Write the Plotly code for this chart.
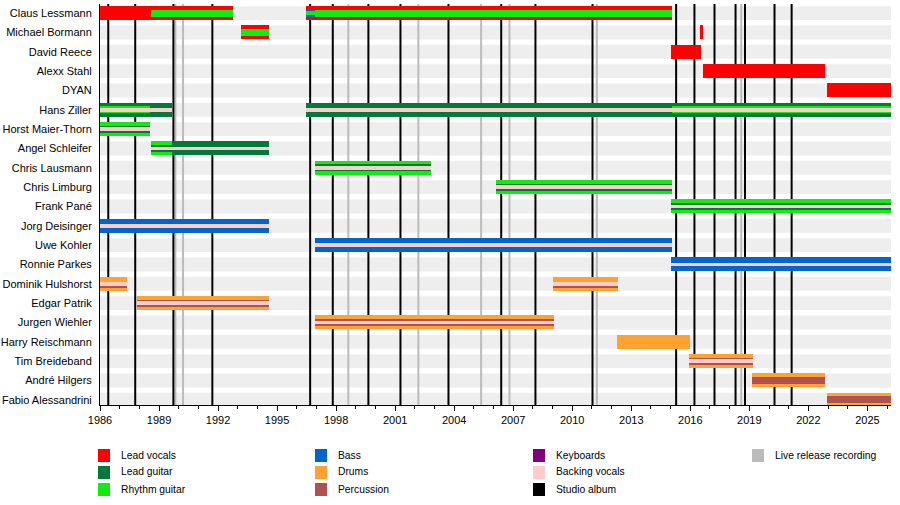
import plotly.graph_objects as go

# ---------------- data ----------------
members = ["Claus Lessmann", "Michael Bormann", "David Reece", "Alexx Stahl", "DYAN",
           "Hans Ziller", "Horst Maier-Thorn", "Angel Schleifer", "Chris Lausmann",
           "Chris Limburg", "Frank Pané", "Jorg Deisinger", "Uwe Kohler", "Ronnie Parkes",
           "Dominik Hulshorst", "Edgar Patrik", "Jurgen Wiehler", "Harry Reischmann",
           "Tim Breideband", "André Hilgers", "Fabio Alessandrini"]

START = 1986.0
END = 2026.2

studio_albums = [1986.42, 1987.79, 1989.73, 1991.71, 1996.68, 1997.83, 1999.64, 2001.27,
                 2003.71, 2006.39, 2008.13, 2011.03, 2015.28, 2016.21, 2017.23, 2018.30,
                 2018.78, 2020.28, 2021.15]
live_releases = [1989.83, 1990.22, 1998.62, 2002.18, 2005.37, 2006.81, 2011.25, 2018.59]

# main role bars (full height)
main_members = ["Claus Lessmann", "Claus Lessmann", "Michael Bormann", "Michael Bormann",
                "David Reece", "Alexx Stahl", "DYAN",
                "Hans Ziller", "Hans Ziller", "Horst Maier-Thorn", "Angel Schleifer",
                "Angel Schleifer", "Chris Lausmann", "Chris Limburg", "Frank Pané",
                "Jorg Deisinger", "Uwe Kohler", "Ronnie Parkes",
                "Dominik Hulshorst", "Dominik Hulshorst", "Edgar Patrik", "Jurgen Wiehler",
                "Harry Reischmann", "Tim Breideband", "André Hilgers", "Fabio Alessandrini"]
main_roles = ["Lead vocals", "Lead vocals", "Lead vocals", "Lead vocals",
              "Lead vocals", "Lead vocals", "Lead vocals",
              "Lead guitar", "Lead guitar", "Rhythm guitar", "Rhythm guitar",
              "Lead guitar", "Rhythm guitar", "Rhythm guitar", "Rhythm guitar",
              "Bass", "Bass", "Bass",
              "Drums", "Drums", "Drums", "Drums",
              "Drums", "Drums", "Drums", "Drums"]
main_starts = [1986.0, 1996.47, 1993.17, 2016.50,
               2015.03, 2016.62, 2022.96,
               1986.0, 1996.47, 1986.0, 1988.60,
               1989.66, 1996.93, 2006.13, 2015.03,
               1986.0, 1996.93, 2015.03,
               1986.0, 2009.00, 1987.90, 1996.93,
               2012.26, 2015.95, 2019.15, 2022.96]
main_ends = [1992.75, 2015.06, 1994.58, 2016.64,
             2016.54, 2022.86, END,
             1989.66, END, 1988.54, 1989.66,
             1994.58, 2002.83, 2015.06, END,
             1994.58, 2015.06, END,
             1987.37, 2012.35, 1994.58, 2009.08,
             2016.00, 2019.18, 2022.86, END]

# secondary role stripes (middle height)
stripe_members = ["Claus Lessmann", "Claus Lessmann", "Claus Lessmann", "Michael Bormann",
                  "Hans Ziller", "Hans Ziller", "Horst Maier-Thorn", "Angel Schleifer",
                  "Chris Lausmann", "Chris Limburg", "Frank Pané",
                  "Edgar Patrik", "Jurgen Wiehler", "Tim Breideband",
                  "André Hilgers", "Fabio Alessandrini"]
stripe_roles = ["Rhythm guitar", "Bass", "Rhythm guitar", "Rhythm guitar",
                "Rhythm guitar", "Rhythm guitar", "Lead guitar", "Lead guitar",
                "Lead guitar", "Lead guitar", "Lead guitar",
                "Percussion", "Percussion", "Percussion",
                "Percussion", "Percussion"]
stripe_starts = [1988.60, 1996.47, 1996.93, 1993.17,
                 1986.0, 2015.06, 1986.0, 1988.60,
                 1996.93, 2006.13, 2015.03,
                 1987.90, 1996.93, 2015.95,
                 2019.15, 2022.96]
stripe_ends = [1992.75, 1996.93, 2015.06, 1994.58,
               1988.54, END, 1988.54, 1989.66,
               2002.83, 2015.06, END,
               1994.58, 2009.08, 2019.18,
               2022.86, END]

# thin stripes (innermost)
thin_members = ["Claus Lessmann", "Hans Ziller", "Hans Ziller", "Horst Maier-Thorn",
                "Angel Schleifer", "Chris Lausmann", "Chris Limburg", "Frank Pané",
                "Jorg Deisinger", "Uwe Kohler", "Ronnie Parkes",
                "Dominik Hulshorst", "Dominik Hulshorst", "Edgar Patrik",
                "Jurgen Wiehler", "Tim Breideband"]
thin_roles = ["Rhythm guitar", "Backing vocals", "Backing vocals", "Backing vocals",
              "Backing vocals", "Backing vocals", "Backing vocals", "Backing vocals",
              "Backing vocals", "Backing vocals", "Backing vocals",
              "Backing vocals", "Backing vocals", "Backing vocals",
              "Backing vocals", "Backing vocals"]
thin_starts = [1996.47, 1986.0, 1996.47, 1986.0,
               1988.60, 1996.93, 2006.13, 2015.03,
               1986.0, 1996.93, 2015.03,
               1986.0, 2009.00, 1987.90,
               1996.93, 2015.95]
thin_ends = [1996.93, 1989.66, END, 1988.54,
             1994.58, 2002.83, 2015.06, END,
             1994.58, 2015.06, END,
             1987.37, 2012.35, 1994.58,
             2009.08, 2019.18]

# low thin stripes
low_members = ["Dominik Hulshorst", "Dominik Hulshorst"]
low_roles = ["Percussion", "Percussion"]
low_starts = [1986.0, 2009.00]
low_ends = [1987.37, 2012.35]

legend_labels = ["Lead vocals", "Lead guitar", "Rhythm guitar", "Bass", "Drums",
                 "Percussion", "Keyboards", "Backing vocals", "Studio album",
                 "Live release recording"]

role_colors = {
    "Lead vocals": "#ff0000",
    "Lead guitar": "#007a3a",
    "Rhythm guitar": "#12ea12",
    "Bass": "#0066cc",
    "Drums": "#ffa230",
    "Percussion": "#b05050",
    "Keyboards": "#800080",
    "Backing vocals": "#ffcccc",
    "Studio album": "#000000",
    "Live release recording": "#bbbbbb",
}

FONT = "Liberation Sans, Arial, sans-serif"
row_of = {m: i for i, m in enumerate(members)}
Y_RANGE = [20.27, -0.47]

fig = go.Figure()


def add_layer(ms, rs, ss, es, width, offset):
    for role in dict.fromkeys(rs):
        idx = [k for k, r in enumerate(rs) if r == role]
        fig.add_trace(go.Bar(
            orientation="h",
            y=[row_of[ms[k]] for k in idx],
            base=[ss[k] for k in idx],
            x=[es[k] - ss[k] for k in idx],
            width=width, offset=offset,
            marker=dict(color=role_colors[role], line=dict(width=0)),
            showlegend=False, hoverinfo="skip",
        ))


add_layer(main_members, main_roles, main_starts, main_ends, 0.72, -0.36)
add_layer(stripe_members, stripe_roles, stripe_starts, stripe_ends, 0.36, -0.18)
add_layer(thin_members, thin_roles, thin_starts, thin_ends, 0.2, -0.10)
add_layer(low_members, low_roles, low_starts, low_ends, 0.12, 0.12)

shapes = []
for i in range(len(members)):
    shapes.append(dict(type="rect", xref="x", yref="y", x0=START, x1=END,
                       y0=i - 0.36, y1=i + 0.36, fillcolor="#eeeeee",
                       line=dict(width=0), layer="below"))
for xv in live_releases:
    shapes.append(dict(type="line", xref="x", yref="y", x0=xv, x1=xv,
                       y0=Y_RANGE[0], y1=Y_RANGE[1],
                       line=dict(color=role_colors["Live release recording"], width=2),
                       layer="below"))
for xv in studio_albums:
    shapes.append(dict(type="line", xref="x", yref="y", x0=xv, x1=xv,
                       y0=Y_RANGE[0], y1=Y_RANGE[1],
                       line=dict(color="#000000", width=2), layer="below"))

# legend drawn manually (column-major, 3 rows)
L, R, T, B = 100, 9, 4, 100
PW, PH = 900 - L - R, 505 - T - B


def px(x):
    return (x - L) / PW


def py(y):
    return (505 - B - y) / PH


col_x = [98, 315, 533, 752]
row_y = [455, 472, 489]
annotations = []
for k, lab in enumerate(legend_labels):
    cx, ry = col_x[k // 3], row_y[k % 3]
    shapes.append(dict(type="rect", xref="paper", yref="paper",
                       x0=px(cx), x1=px(cx + 12), y0=py(ry + 7), y1=py(ry - 6),
                       fillcolor=role_colors[lab], line=dict(width=0)))
    annotations.append(dict(xref="paper", yref="paper", x=px(cx + 21), y=py(ry),
                            text=lab, showarrow=False, xanchor="left", yanchor="middle",
                            font=dict(size=10.3, color="#000000", family=FONT)))

fig.update_layout(
    width=900, height=505, autosize=False,
    margin=dict(l=L, r=R, t=T, b=B, pad=0, autoexpand=False),
    paper_bgcolor="white", plot_bgcolor="white",
    barmode="overlay", bargap=0,
    shapes=shapes, annotations=annotations,
    font=dict(family=FONT, size=11, color="#000000"),
    xaxis=dict(range=[START, END], showline=True, linecolor="#000000", linewidth=1,
               ticks="outside", ticklen=5, tickwidth=1, tickcolor="#000000",
               tick0=1986, dtick=3, showgrid=False, zeroline=False, automargin=False,
               minor=dict(dtick=1, ticks="outside", ticklen=3, tickcolor="#000000",
                          showgrid=False),
               tickfont=dict(size=11, color="#000000", family=FONT)),
    yaxis=dict(range=Y_RANGE, tickvals=list(range(len(members))), ticktext=members,
               showline=True, linecolor="#000000", linewidth=1, ticks="",
               showgrid=False, zeroline=False, ticklabelstandoff=5, automargin=False,
               tickfont=dict(size=11, color="#000000", family=FONT)),
)

fig.write_html("out.html", config={"displayModeBar": False},
               post_script="document.body.style.margin='0';document.body.style.padding='0';")
